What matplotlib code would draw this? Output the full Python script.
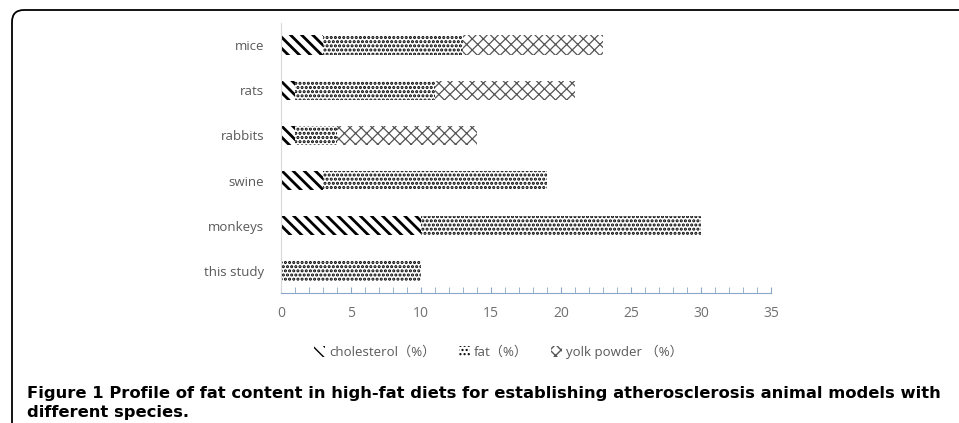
import numpy as np
import matplotlib
matplotlib.use("Agg")
import matplotlib.pyplot as plt
from matplotlib.patches import FancyBboxPatch, Patch

plt.rcParams['font.family'] = ['Open Sans', 'Noto Sans CJK SC', 'DejaVu Sans']

species = ["this study", "monkeys", "swine", "rabbits", "rats", "mice"]
cholesterol = [0, 10, 3, 1, 1, 3]
fat = [10, 20, 16, 3, 10, 10]
yolk = [0, 0, 0, 10, 10, 10]
labels = ["cholesterol（%）", "fat（%）", "yolk powder （%）"]
caption = ("Figure 1 Profile of fat content in high-fat diets for establishing "
           "atherosclerosis animal models with\ndifferent species.")

fig = plt.figure(figsize=(9.59, 4.23), dpi=100)
ax = fig.add_axes([0.293, 0.307, 0.511, 0.639])

y = np.arange(len(species))
left_fat = np.array(cholesterol)
left_yolk = left_fat + np.array(fat)

# hatch, colour, hatch line width
styles = [("\\\\\\", "black", 2.0), ("....", "black", 1.5), ("xxx", "#555555", 0.9)]
series = [(cholesterol, 0), (fat, left_fat), (yolk, left_yolk)]
handles = []
for (vals, left), (hatch, col, hlw), lab in zip(series, styles, labels):
    with plt.rc_context({"hatch.linewidth": hlw}):
        ax.barh(y, vals, left=left, height=0.44, color="white",
                edgecolor=col, linewidth=0, hatch=hatch)
        handles.append(Patch(facecolor="white", edgecolor=col, linewidth=0,
                             hatch=hatch, label=lab))

ax.set_xlim(0, 35)
ax.set_ylim(-0.5, len(species) - 0.5)
ax.set_xticks(np.arange(0, 36, 5))
ax.set_xticks(np.arange(0, 36, 1), minor=True)
ax.set_yticks(y)
ax.set_yticklabels(species)
ax.tick_params(axis="x", which="both", direction="in", length=4, color="#8aa6c8",
               labelcolor="#707070", labelsize=10, pad=9)
ax.tick_params(axis="y", length=0, labelcolor="#595959", labelsize=9.5, pad=12)
for s in ["top", "right"]:
    ax.spines[s].set_visible(False)
ax.spines["bottom"].set_color("#8aa6c8")
ax.spines["left"].set_color("#d9d9d9")

fig.legend(handles=handles, loc="center", bbox_to_anchor=(0.52, 0.168), ncol=3,
           frameon=False, fontsize=9.5, handlelength=0.8, handleheight=0.8,
           handletextpad=0.3, columnspacing=1.8, labelcolor="#595959")

frame = FancyBboxPatch((0.12, -1.0), 10.0, 5.13, boxstyle="round,pad=0,rounding_size=0.12",
                       transform=fig.dpi_scale_trans, facecolor="none",
                       edgecolor="black", linewidth=1.3, clip_on=False)
fig.patches.append(frame)

fig.text(0.028, 0.048, caption, fontsize=11.8, fontweight="bold",
         family=["DejaVu Sans"], va="center", linespacing=1.35)

fig.savefig("out.png", dpi=100)
